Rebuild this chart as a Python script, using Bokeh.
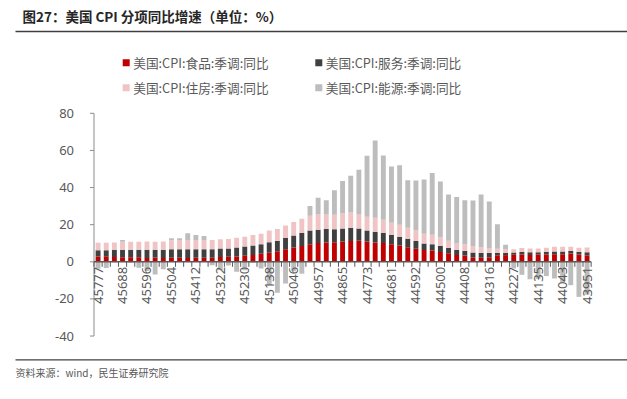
import math
import calendar
import datetime
import numpy as np
from bokeh.plotting import figure
from bokeh.models import Range1d
from bokeh.core.properties import value
from bokeh.embed import file_html
from bokeh.resources import INLINE

# ---------------- data (newest first: 2025-04 ... 2020-04) ----------------
series_names = ["美国:CPI:食品:季调:同比", "美国:CPI:服务:季调:同比",
                "美国:CPI:住房:季调:同比", "美国:CPI:能源:季调:同比"]
series_colors = ["#C00000", "#404040", "#F0C4C4", "#BDBDBD"]

food = [2.8, 3.0, 2.6, 2.5,
        2.5, 2.4, 2.1, 2.3, 2.1, 2.2, 2.2, 2.1, 2.2, 2.2, 2.2, 2.6,
        2.7, 2.9, 3.3, 3.7, 4.3, 4.9, 5.7, 6.7, 7.7, 8.5, 9.5, 10.1,
        10.4, 10.6, 10.9, 11.2, 11.4, 10.9, 10.4, 10.1, 9.4, 8.8, 7.9, 7.0,
        6.3, 6.1, 5.3, 4.6, 3.7, 3.4, 2.4, 2.2, 2.4, 3.5, 3.6, 3.8,
        3.9, 3.7, 3.9, 3.9, 4.1, 4.1, 4.5, 4.0, 3.5]
services = [3.4, 3.2, 3.7, 4.0,
            4.0, 4.1, 4.4, 4.2, 4.4, 4.6, 4.6, 4.7, 4.6, 4.6, 4.6, 4.6,
            4.5, 4.8, 5.0, 5.1, 5.2, 5.6, 5.7, 6.1, 6.5, 7.0, 7.3, 7.2,
            7.3, 6.9, 7.1, 7.2, 6.6, 5.9, 5.8, 5.6, 5.2, 4.7, 4.5, 4.2,
            3.6, 3.4, 3.3, 2.8, 2.8, 2.5, 2.6, 2.7, 2.3, 1.4, 1.3, 1.2,
            1.4, 1.4, 1.3, 1.5, 1.5, 1.5, 1.3, 1.4, 1.6]
housing = [4.0, 4.1, 4.1, 4.3,
           4.3, 4.3, 4.4, 4.3, 4.4, 4.8, 4.9, 4.9, 5.0, 5.0, 5.0, 5.0,
           5.1, 5.3, 5.2, 5.6, 5.6, 6.3, 6.3, 6.8, 7.3, 7.7, 8.0, 8.5,
           8.1, 7.9, 8.0, 8.1, 7.8, 7.5, 7.6, 7.0, 6.5, 6.5, 6.0, 5.6,
           5.2, 5.1, 4.6, 4.0, 3.4, 3.5, 3.5, 2.8, 2.7, 2.1, 1.9, 1.7,
           2.1, 2.1, 2.0, 2.2, 2.5, 2.5, 2.3, 2.2, 2.6]
energy = [-3.7, -3.3, -0.2, 1.0,
          -0.5, -3.2, -4.9, -6.8, -4.0, 1.1, 1.0, 3.7, 2.6, 2.1, -1.9, -4.6,
          -2.0, -5.4, -4.5, -0.5, -3.6, -12.5, -16.7, -11.7, -5.1, -6.4, 5.2, 8.7,
          7.3, 13.1, 17.6, 19.8, 23.8, 32.9, 41.6, 34.6, 30.3, 32.0, 25.6, 27.0,
          29.3, 33.3, 30.0, 24.8, 25.0, 23.8, 24.5, 28.5, 25.1, 13.2, 2.4, -3.6,
          -7.0, -9.4, -9.2, -7.7, -9.0, -11.2, -12.6, -18.9, -17.7]

y_ticks = [-40, -20, 0, 20, 40, 60, 80]

title_text = "图27：美国 CPI 分项同比增速（单位：%）"
source_text = "资料来源：wind，民生证券研究院"


# category axis: month-end dates as Excel serial numbers, newest first
def month_end_serials(year, month, count):
    out = []
    for _ in range(count):
        d = datetime.date(year, month, calendar.monthrange(year, month)[1])
        out.append((d - datetime.date(1899, 12, 30)).days)
        month -= 1
        if month == 0:
            month, year = 12, year - 1
    return out


categories = month_end_serials(2025, 4, len(food))
n = len(categories)
idx = np.arange(n)
label_idx = idx[::3]
label_text = [str(categories[i]) for i in label_idx]

# ---------------- stacking (positives up, negatives down) ----------------
pos_base = np.zeros(n)
neg_base = np.zeros(n)
stacks = []
for vals in (food, services, housing, energy):
    v = np.array(vals, dtype=float)
    bottom = np.where(v >= 0, pos_base, neg_base)
    top = bottom + v
    pos_base = np.where(v >= 0, top, pos_base)
    neg_base = np.where(v < 0, top, neg_base)
    stacks.append((bottom, top))

# ---------------- canvas / layout constants (pixels) ----------------
W, H = 627, 399
PLOT_LEFT, CAT_W = 93.5, 8.15          # left edge of category axis, px per category
ZERO_Y, PX_PER_UNIT = 261.3, 1.856     # screen y of value 0, px per value unit
GRAY_TXT = "#595959"
AXIS_GRAY = "#8C8C8C"
CJK = value("Noto Sans CJK SC")

p = figure(width=W, height=H, x_range=Range1d(0, W), y_range=Range1d(H, 0),
           output_backend="svg", toolbar_location=None, min_border=0,
           x_axis_location=None, y_axis_location=None)
p.grid.visible = False
p.outline_line_color = None
p.background_fill_color = "white"

# data ranges mapped onto the full canvas
p.extra_x_ranges["cat"] = Range1d(-0.5 - PLOT_LEFT / CAT_W, -0.5 + (W - PLOT_LEFT) / CAT_W)
p.extra_y_ranges["val"] = Range1d((ZERO_Y - H) / PX_PER_UNIT, ZERO_Y / PX_PER_UNIT)

# ---------------- header ----------------
p.text(x=[22], y=[15.7], text=[title_text], text_font=CJK, text_font_style="bold",
       text_font_size="13.5px", text_baseline="middle", text_color="#262626")
p.segment(x0=[15], x1=[W], y0=[31], y1=[31], line_color="#404040", line_width=1.5)

leg_sx = [125.7, 318.3, 125.7, 318.3]
leg_sy = [62.3, 62.3, 87.3, 87.3]
p.scatter(x=leg_sx, y=leg_sy, marker="square", size=7, fill_color=series_colors,
          line_color=None)
p.text(x=[v + 7 for v in leg_sx], y=leg_sy, text=series_names, text_font=CJK,
       text_font_size="12.7px", text_baseline="middle", text_color=GRAY_TXT)

# ---------------- bars ----------------
for (bottom, top), c in zip(stacks, series_colors):
    p.vbar(x=idx, bottom=bottom, top=top, width=0.6, fill_color=c, line_color=None,
           x_range_name="cat", y_range_name="val")

# ---------------- value axis ----------------
p.segment(x0=[PLOT_LEFT], x1=[PLOT_LEFT], y0=[min(y_ticks)], y1=[max(y_ticks)],
          line_color=AXIS_GRAY, line_width=1, y_range_name="val")
p.ray(x=[PLOT_LEFT] * len(y_ticks), y=y_ticks, length=4, length_units="screen",
      angle=math.pi, line_color=AXIS_GRAY, line_width=1, y_range_name="val")
p.text(x=[PLOT_LEFT - 20] * len(y_ticks), y=y_ticks, text=[str(t) for t in y_ticks],
       text_align="right", text_baseline="middle", text_font=value("Noto Sans"),
       text_font_size="13px", text_color=GRAY_TXT, y_range_name="val")

# ---------------- category axis at value 0 ----------------
bounds = np.arange(n + 1) - 0.5
p.segment(x0=[bounds[0]], x1=[bounds[-1]], y0=[0], y1=[0], line_color="#595959",
          line_width=1.5, x_range_name="cat", y_range_name="val")
p.ray(x=bounds, y=np.zeros(len(bounds)), length=5, length_units="screen",
      angle=-math.pi / 2, line_color="#595959", line_width=1,
      x_range_name="cat", y_range_name="val")
p.text(x=label_idx, y=np.zeros(len(label_idx)), text=label_text, angle=math.pi / 2,
       text_align="right", text_baseline="middle", y_offset=5,
       text_font=value("Noto Sans"), text_font_size="13px", text_color=GRAY_TXT,
       x_range_name="cat", y_range_name="val")

# ---------------- footer ----------------
p.segment(x0=[15], x1=[W], y0=[359.3], y1=[359.3], line_color="#404040", line_width=1.2)
p.text(x=[15], y=[371.7], text=[source_text], text_font=CJK, text_font_size="10px",
       text_baseline="middle", text_color=GRAY_TXT)

open("out.html", "w").write(file_html(p, INLINE))
